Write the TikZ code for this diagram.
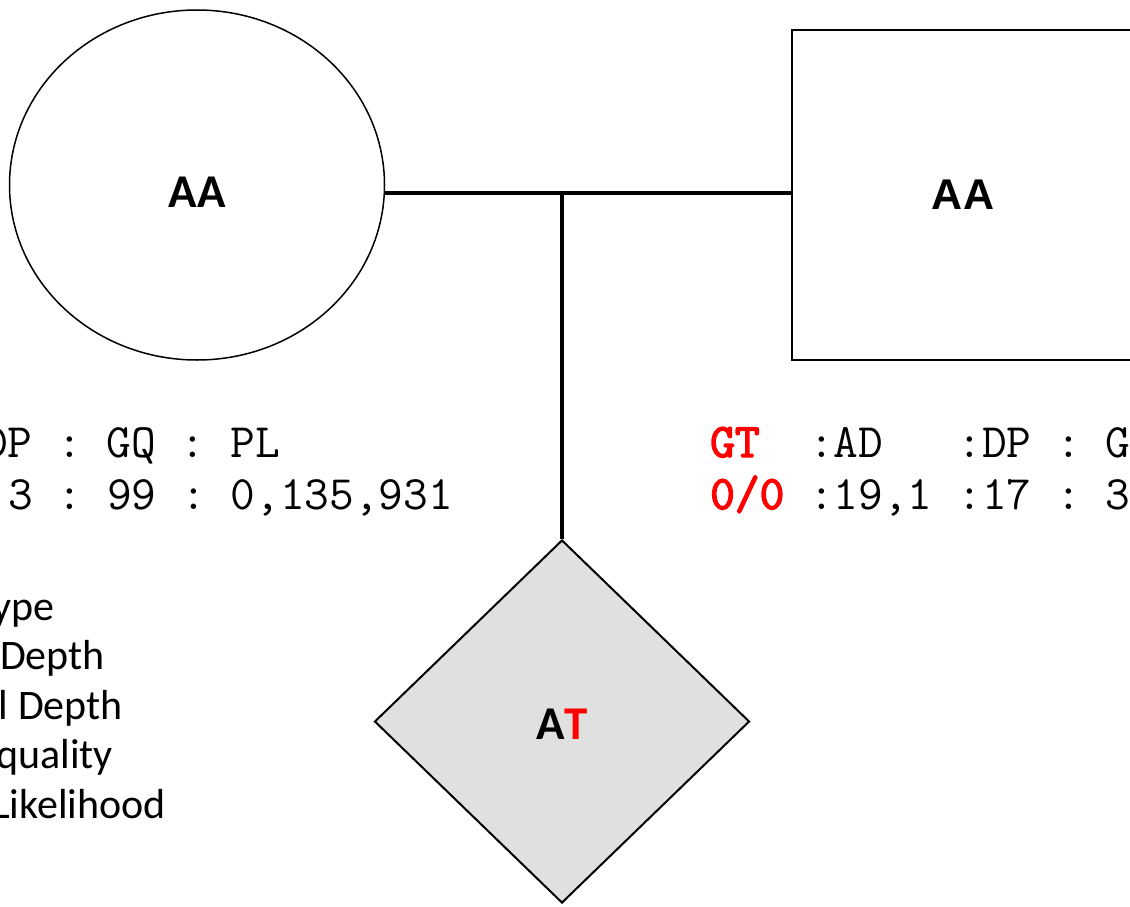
\documentclass[tikz,border=0pt]{standalone}
\usepackage{fontspec}
\usetikzlibrary{shapes.geometric}
\newfontfamily\calib{Carlito}
\newfontfamily\arialf{Liberation Sans}
\setmonofont{Latin Modern Mono}
\newfontfamily\monobold[FakeBold=3]{Latin Modern Mono}
\definecolor{genored}{RGB}{255,0,0}
\definecolor{childfill}{RGB}{224,224,224}
\tikzset{
  female/.style={ellipse, draw, line width=1.5pt, fill=white, minimum width=375pt, minimum height=350pt, inner sep=0pt},
  male/.style={rectangle, draw, line width=2.2pt, fill=white, minimum width=342pt, minimum height=330pt, inner sep=0pt},
  child/.style={diamond, draw, line width=2pt, fill=childfill, minimum width=375pt, minimum height=363pt, inner sep=0pt},
  link/.style={line width=4pt},
  gtext/.style={font=\ttfamily\fontsize{48}{52}\selectfont, anchor=base west, inner sep=0pt},
  legendtext/.style={font=\calib\fontsize{42}{50}\selectfont, anchor=base east, inner sep=0pt},
  calibbold/.style={font=\calib\bfseries\fontsize{47}{50}\selectfont},
  arialbold/.style={font=\arialf\bfseries\fontsize{43}{50}\selectfont}
}
\newcommand{\redfield}[1]{\textcolor{genored}{\monobold #1}}
\begin{document}
\begin{tikzpicture}[x=1pt,y=-1pt]
\useasboundingbox (0,0) rectangle (1130,907);
\clip (0,0) rectangle (1130,907);
% individuals
\node[female, calibbold, text height=44pt, text depth=0pt] (mother) at (197,185) {AA};
\node[male, arialbold] (father) at (963,195) {AA};
\node[child, calibbold, text height=36pt, text depth=0pt] (child) at (562,721.5) {A\textcolor{genored}{T}};
% connectors
\coordinate (m) at (562,193);
\draw[link] (m -| mother.east) -- (m -| father.west);
\draw[link] (m) -- (child.north);
% genotype fields, left
\node[gtext] (lh) at (-17,457) {DP : GQ : PL};
\node[gtext] (lv) at (8,509) {3 : 99 : 0,135,931};
% genotype fields, right
\node[gtext] (rh) at (710,457) {\redfield{GT}\ \ :AD\ \ \ :DP : G};
\node[gtext] (rv) at (710,509) {\redfield{0/0}\ :19,1\ :17 : 3};
% legend
\node[legendtext] (l1) at (55,620) {ype};
\node[legendtext] (l2) at (105,669.5) {Depth};
\node[legendtext] (l3) at (123,719) {l Depth};
\node[legendtext] (l4) at (113,768.5) {quality};
\node[legendtext] (l5) at (166,818) {Likelihood};
\end{tikzpicture}
\end{document}
